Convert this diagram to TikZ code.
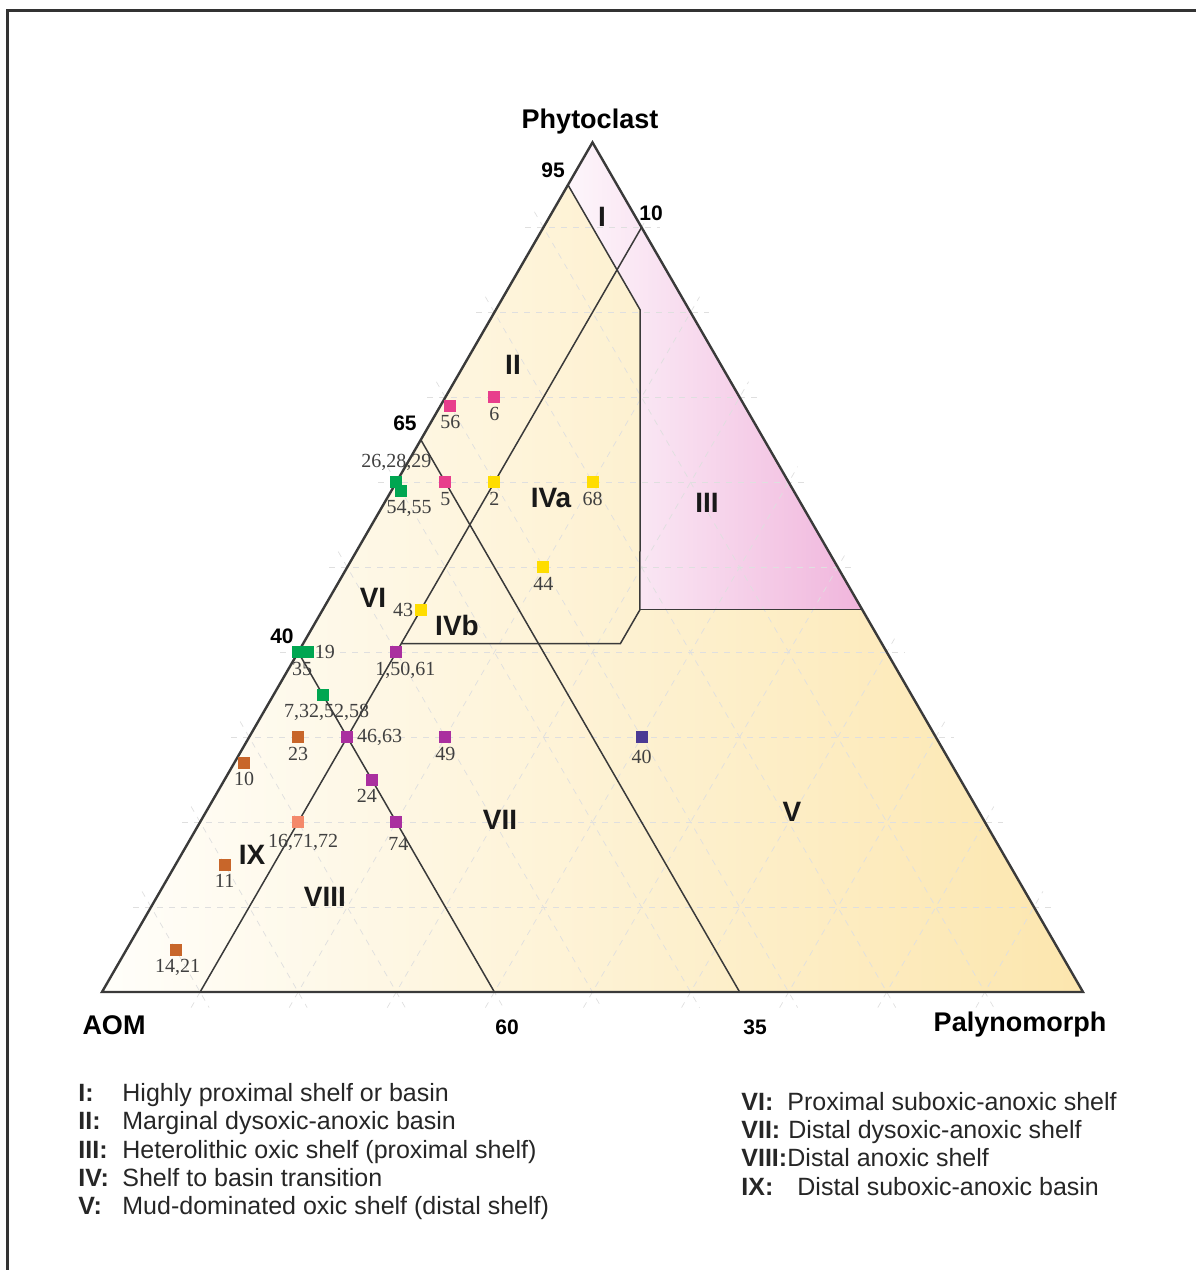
\documentclass[tikz,border=0pt]{standalone}
\usepackage{fontspec}
\setmainfont{Liberation Sans}
\newfontfamily\numfont{Liberation Serif}
\usetikzlibrary{positioning}

\definecolor{creamL}{HTML}{FFFEFA}
\definecolor{creamM}{HTML}{FDF5E2}
\definecolor{creamR}{HTML}{FCE6AE}
\definecolor{pinkL}{HTML}{FDF6FB}
\definecolor{pinkM}{HTML}{F9E4F2}
\definecolor{pinkR}{HTML}{F0B5DC}
\definecolor{cpink}{HTML}{E83E8C}
\definecolor{cyellow}{HTML}{FFDD00}
\definecolor{cgreen}{HTML}{00A651}
\definecolor{cpurple}{HTML}{AA2F9F}
\definecolor{cbrown}{HTML}{C8662A}
\definecolor{csalmon}{HTML}{F4896B}
\definecolor{cblue}{HTML}{4B3A94}
\definecolor{edge}{HTML}{3A3A3A}

\tikzset{
  tern/.style={shift={(51pt,-496pt)},x={(490.5pt,0pt)},y={(245.25pt,424.8pt)}},
  gridline/.style={gray!25,dashed,line width=0.35pt,shorten <=-9pt,shorten >=-9pt},
  zone/.style={edge,line width=0.75pt},
  smp/.style={rectangle,inner sep=0pt,minimum size=6pt},
  num/.style={font={\numfont\fontsize{10}{10}\selectfont},text=black!75,inner sep=0pt},
  region/.style={font={\bfseries\fontsize{14}{14}\selectfont},text=black!90},
  corner/.style={font={\bfseries\fontsize{13.5}{14}\selectfont}},
  tick/.style={font={\bfseries\fontsize{10.5}{11}\selectfont}},
  legend/.style={font={\fontsize{12.5}{13}\selectfont},text=black!85,anchor=base west,inner sep=0pt},
  legkey/.style={legend,font={\bfseries\fontsize{12.5}{13}\selectfont}}
}

\begin{document}
\begin{tikzpicture}[x=0.5pt,y=-0.5pt]
\useasboundingbox (0,0) rectangle (1195,1270);
\draw[line width=1.5pt,black!80] (7,1300) -- (7,10.5) -- (1300,10.5);

\begin{scope}[tern]
\coordinate (A) at (0,0);
\coordinate (P) at (0,1);
\coordinate (M) at (1,0);
% colour zones
\shade[left color=creamL,middle color=creamM,right color=creamR] (A) -- (P) -- (M) -- cycle;
\shade[left color=pinkL,middle color=pinkM,right color=pinkR] (P) -- (0,0.95) -- (0.147,0.803) -- (0.3234,0.45) -- (0.55,0.45) -- cycle;
% 10% grid
\foreach \k in {0.1,0.2,...,0.9}{
  \draw[gridline] (0,\k) -- ({1-\k},\k);
  \draw[gridline] (\k,0) -- (\k,{1-\k});
  \draw[gridline] (0,\k) -- (\k,0);
}
% field boundaries
\draw[zone] (0,0.95) -- (0.147,0.803) -- (0.3234,0.45) -- (0.3234,0.41) -- (0.1,0.41);
\draw[zone] (0.3234,0.45) -- (0.55,0.45);
\draw[zone] (0.1,0.9) -- (0.1,0);
\draw[zone] (0,0.65) -- (0.65,0);
\draw[zone] (0,0.4) -- (0.4,0);
\draw[edge,line width=1.2pt] (A) -- (P) -- (M) -- cycle;

% samples
\node[smp,fill=cpink] (s56) at (0.01,0.69) {};
\node[num,below=1.5pt of s56] (l56) {56};
\node[smp,fill=cpink] (s6) at (0.05,0.7) {};
\node[num,below=1.5pt of s6] (l6) {6};
\node[smp,fill=cpink] (s5) at (0.05,0.6) {};
\node[num,below=1.5pt of s5] (l5) {5};
\node[smp,fill=cgreen] (s262829) at (0,0.6) {};
\node[num,above=2.5pt of s262829] (l262829) {26,28,29};
\node[smp,fill=cgreen] (s5455) at (0.01,0.59) {};
\node[num,below=1.5pt of s5455,xshift=4pt] (l5455) {54,55};
\node[smp,fill=cyellow] (s2) at (0.1,0.6) {};
\node[num,below=1.5pt of s2] (l2) {2};
\node[smp,fill=cyellow] (s68) at (0.2,0.6) {};
\node[num,below=1.5pt of s68] (l68) {68};
\node[smp,fill=cyellow] (s44) at (0.2,0.5) {};
\node[num,below=1.5pt of s44] (l44) {44};
\node[smp,fill=cyellow] (s43) at (0.1,0.45) {};
\node[num,left=0.5pt of s43] (l43) {43};
\node[smp,fill=cgreen] (s35) at (0,0.4) {};
\node[num,below=1.5pt of s35,xshift=2pt] (l35) {35};
\node[smp,fill=cgreen] (s19) at (0.01,0.4) {};
\node[num,right=0pt of s19] (l19) {19};
\node[smp,fill=cpurple] (s15061) at (0.1,0.4) {};
\node[num,below=1.5pt of s15061,xshift=4.5pt] (l15061) {1,50,61};
\node[smp,fill=cgreen] (s7325258) at (0.05,0.35) {};
\node[num,below=1.5pt of s7325258,xshift=2pt] (l7325258) {7,32,52,58};
\node[smp,fill=cbrown] (s23) at (0.05,0.3) {};
\node[num,below=1.5pt of s23] (l23) {23};
\node[smp,fill=cpurple] (s4663) at (0.1,0.3) {};
\node[num,right=1.5pt of s4663] (l4663) {46,63};
\node[smp,fill=cpurple] (s49) at (0.2,0.3) {};
\node[num,below=1.5pt of s49] (l49) {49};
\node[smp,fill=cblue] (s40) at (0.4,0.3) {};
\node[num,below=3pt of s40] (l40) {40};
\node[smp,fill=cbrown] (s10) at (0.01,0.27) {};
\node[num,below=1.5pt of s10] (l10) {10};
\node[smp,fill=cpurple] (s24) at (0.15,0.25) {};
\node[num,below=1.5pt of s24,xshift=-2.5pt] (l24) {24};
\node[smp,fill=csalmon] (s167172) at (0.1,0.2) {};
\node[num,below=2.5pt of s167172,xshift=2.5pt] (l167172) {16,71,72};
\node[smp,fill=cpurple] (s74) at (0.2,0.2) {};
\node[num,below=4pt of s74,xshift=1pt] (l74) {74};
\node[smp,fill=cbrown] (s11) at (0.05,0.15) {};
\node[num,below=1.5pt of s11] (l11) {11};
\node[smp,fill=cbrown] (s1421) at (0.05,0.05) {};
\node[num,below=1.5pt of s1421,xshift=1pt] (l1421) {14,21};
\end{scope}

% end members and limits
\node[corner] (phyto) at (590,122) {Phytoclast};
\node[corner] (aom) at (114,1025) {AOM};
\node[corner] (paly) at (1020,1025) {Palynomorph};
\node[tick] (t95) at (553,170) {95};
\node[tick] (t10) at (651,213) {10};
\node[tick] (t65) at (405,423) {65};
\node[tick] (t40) at (282,636) {40};
\node[tick] (t60) at (507,1027) {60};
\node[tick] (t35) at (755,1027) {35};

% fields
\node[region] (rI) at (602,217) {I};
\node[region] (rII) at (513,365) {II};
\node[region] (rIII) at (707,503) {III};
\node[region] (rIVa) at (551,498) {IVa};
\node[region] (rIVb) at (457,625) {IVb};
\node[region] (rV) at (792,812) {V};
\node[region] (rVI) at (373,598) {VI};
\node[region] (rVII) at (500,820) {VII};
\node[region] (rVIII) at (325,897) {VIII};
\node[region] (rIX) at (252,855) {IX};

% legend
\node[legkey] (kI) at (78,1101) {I:};
\node[legend] (dI) at (122,1101) {Highly proximal shelf or basin};
\node[legkey] (kII) at (78,1129) {II:};
\node[legend] (dII) at (122,1129) {Marginal dysoxic-anoxic basin};
\node[legkey] (kIII) at (78,1158) {III:};
\node[legend] (dIII) at (122,1158) {Heterolithic oxic shelf (proximal shelf)};
\node[legkey] (kIV) at (78,1186) {IV:};
\node[legend] (dIV) at (122,1186) {Shelf to basin transition};
\node[legkey] (kV) at (78,1214) {V:};
\node[legend] (dV) at (122,1214) {Mud-dominated oxic shelf (distal shelf)};
\node[legkey] (kVI) at (741,1110) {VI:};
\node[legend] (dVI) at (787,1110) {Proximal suboxic-anoxic shelf};
\node[legkey] (kVII) at (741,1138) {VII:};
\node[legend] (dVII) at (788,1138) {Distal dysoxic-anoxic shelf};
\node[legkey] (kVIII) at (741,1166) {VIII:};
\node[legend] (dVIII) at (787,1166) {Distal anoxic shelf};
\node[legkey] (kIX) at (741,1195) {IX:};
\node[legend] (dIX) at (797,1195) {Distal suboxic-anoxic basin};
\end{tikzpicture}
\end{document}
